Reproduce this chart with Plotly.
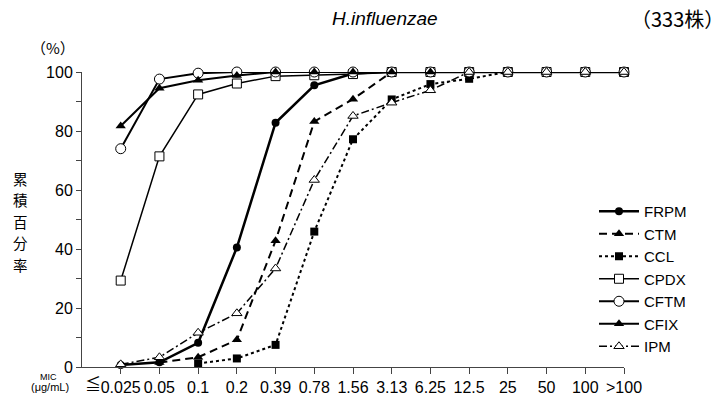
import plotly.graph_objects as go

categories = ["≦0.025", "0.05", "0.1", "0.2", "0.39", "0.78", "1.56", "3.13",
              "6.25", "12.5", "25", "50", "100", ">100"]

FRPM = [0.7, 1.6, 8.2, 40.5, 82.8, 95.5, 99.5, 100, 100, 100, 100, 100, 100, 100]
CTM  = [None, 1.5, 3.3, 9.2, 42.8, 83.2, 90.8, 100, 100, 100, 100, 100, 100, 100]
CCL  = [None, None, 1.2, 2.9, 7.5, 45.9, 77.2, 90.7, 95.9, 97.7, 100, 100, 100, 100]
CPDX = [29.3, 71.4, 92.4, 96.1, 98.6, 98.9, 99.3, 100, 100, 100, 100, 100, 100, 100]
CFTM = [74.0, 97.6, 99.6, 100, 100, 100, 100, 100, 100, 100, 100, 100, 100, 100]
CFIX = [81.7, 94.5, 97.2, 98.8, 100, 100, 100, 100, 100, 100, 100, 100, 100, 100]
IPM  = [0.9, 3.3, 11.6, 18.2, 33.4, 63.4, 85.1, 89.6, 93.8, 100, 100, 100, 100, 100]

y_ticks = [0, 10, 20, 30, 40, 50, 60, 70, 80, 90, 100]
y_ticktext = ["0", "", "20", "", "40", "", "60", "", "80", "", "100"]
y_title = "累積百分率"

FONT = "Liberation Sans, Arial, sans-serif"
JP = "Noto Sans CJK JP, sans-serif"

series = [
    ("FRPM", FRPM, dict(width=2.5, dash="solid"), dict(symbol="circle", size=8, color="black")),
    ("CTM", CTM, dict(width=2, dash="8px,5px"), dict(symbol="triangle-up", size=9, color="black")),
    ("CCL", CCL, dict(width=2, dash="3px,3px"), dict(symbol="square", size=8, color="black")),
    ("CPDX", CPDX, dict(width=1.5, dash="solid"), dict(symbol="square", size=9, color="white",
                                                     line=dict(color="black", width=1))),
    ("CFTM", CFTM, dict(width=2, dash="solid"), dict(symbol="circle", size=10, color="white",
                                                   line=dict(color="black", width=1))),
    ("CFIX", CFIX, dict(width=2, dash="solid"), dict(symbol="triangle-up", size=9, color="black")),
    ("IPM", IPM, dict(width=1.5, dash="8px,3px,2px,3px"), dict(symbol="triangle-up", size=9, color="white",
                                                             line=dict(color="black", width=1))),
]

x_pos = list(range(len(categories)))
# first label: the "≦" sign is drawn just left of the number, as in the original
tick_text = [categories[0].lstrip("≦")] + categories[1:]

fig = go.Figure()
for name, vals, line, marker in series:
    fig.add_trace(go.Scatter(
        x=x_pos, y=vals, name=name, mode="lines+markers",
        line=dict(color="black", **line), marker=marker,
        cliponaxis=False, connectgaps=False,
    ))

PL, PT, PW, PH = 82, 72, 542, 295


def px(xp):
    return (xp - PL) / PW


def py(yp):
    return (PT + PH - yp) / PH


annotations = [
    dict(text="<i>H.influenzae</i>", x=px(385), y=py(18),
         font=dict(family=FONT, size=19, color="black")),
    dict(text="（333株）", x=px(677), y=py(18),
         font=dict(family=JP, size=20, color="black")),
    dict(text="（%）", x=px(53), y=py(47),
         font=dict(family=JP, size=15, color="black")),
    dict(text="MIC", x=px(48), y=py(377),
         font=dict(family=FONT, size=9, color="black")),
    dict(text="(μg/mL)", x=px(50), y=py(387),
         font=dict(family=FONT, size=11, color="black")),
    dict(text="≦", x=px(93), y=py(383),
         font=dict(family=JP, size=16, color="black")),
]
# vertical y-axis title, one character per line
for i, ch in enumerate(y_title):
    annotations.append(dict(text=ch, x=px(20), y=py(178 + 21.5 * i),
                            font=dict(family=JP, size=14.5, color="black")))
for a in annotations:
    a.update(xref="paper", yref="paper", showarrow=False, xanchor="center", yanchor="middle")

fig.update_layout(
    width=723, height=405,
    margin=dict(l=PL, r=723 - PL - PW, t=PT, b=405 - PT - PH, autoexpand=False),
    paper_bgcolor="white", plot_bgcolor="white",
    font=dict(family=FONT, size=16, color="black"),
    showlegend=True,
    legend=dict(x=px(594), y=py(195), xanchor="left", yanchor="top",
                font=dict(family=FONT, size=15, color="black"),
                bgcolor="rgba(0,0,0,0)", itemwidth=40, tracegroupgap=0),
    xaxis=dict(range=[-1, 13], tickvals=x_pos, ticktext=tick_text, tickangle=0,
               automargin=False,
               showgrid=False, zeroline=False, showline=True, linecolor="#444", linewidth=1,
               ticks="outside", ticklen=6, tickcolor="#444", tickwidth=1,
               tickfont=dict(family=FONT, size=16, color="black")),
    yaxis=dict(range=[0, 100], tickvals=y_ticks, ticktext=y_ticktext, automargin=False,
               showgrid=False, zeroline=False, showline=True, linecolor="#444", linewidth=1,
               ticks="outside", ticklen=5, tickcolor="#444", tickwidth=1,
               tickfont=dict(family=FONT, size=16, color="black")),
    annotations=annotations,
)

fig.write_html("out.html")
